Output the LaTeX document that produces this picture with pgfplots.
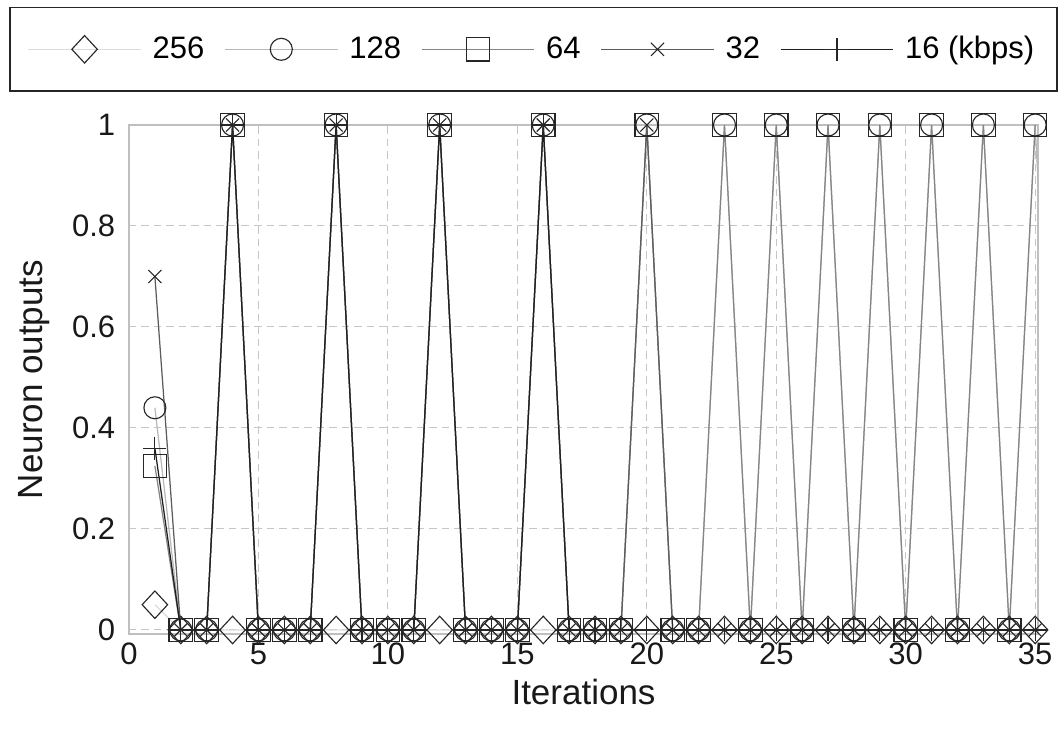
\documentclass[border=0pt]{standalone}
\usepackage{fontspec}
\setmainfont{Liberation Sans}
\usepackage{pgfplots}
\usepackage{pgfplotstable}
\pgfplotsset{compat=1.18}

\definecolor{c256}{gray}{0.86}
\definecolor{c128}{gray}{0.72}
\definecolor{c64}{gray}{0.52}
\definecolor{c32}{gray}{0.36}
\definecolor{c16}{gray}{0.12}
\definecolor{mk}{gray}{0.15}

% neuron outputs per iteration, one column per bit rate
\pgfplotstableread{
x  a256 a128 a64   a32  a16
1  0.05 0.44 0.325 0.70 0.36
2  0    0    0     0    0
3  0    0    0     0    0
4  0    1    1     1    1
5  0    0    0     0    0
6  0    0    0     0    0
7  0    0    0     0    0
8  0    1    1     1    1
9  0    0    0     0    0
10 0    0    0     0    0
11 0    0    0     0    0
12 0    1    1     1    1
13 0    0    0     0    0
14 0    0    0     0    0
15 0    0    0     0    0
16 0    1    1     1    1
17 0    0    0     0    0
18 0    0    0     0    0
19 0    0    0     0    0
20 0    1    1     1    0
21 0    0    0     0    0
22 0    0    0     0    0
23 0    1    1     0    0
24 0    0    0     0    0
25 0    1    1     0    0
26 0    0    0     0    0
27 0    1    1     0    0
28 0    0    0     0    0
29 0    1    1     0    0
30 0    0    0     0    0
31 0    1    1     0    0
32 0    0    0     0    0
33 0    1    1     0    0
34 0    0    0     0    0
35 0    1    1     0    0
36 0    0    0     0    0
}\outputs

\begin{document}
\begin{tikzpicture}
\begin{axis}[
    scale only axis,
    width=363.6pt, height=203.6pt,
    xmin=0, xmax=35.11,
    ymin=-0.008, ymax=1,
    xtick={0,5,...,35},
    ytick={0,0.2,0.4,0.6,0.8,1},
    major tick length=0pt,
    grid=major,
    major grid style={gray!45, line width=0.4pt, dash pattern=on 3pt off 2pt},
    axis line style={gray!50, line width=0.6pt},
    /pgf/number format/assume math mode=true,
    ticklabel style={font=\fontsize{12.4}{14.9}\selectfont, text=black!90},
    xticklabel style={yshift=0pt},
    yticklabel style={xshift=-2pt},
    label style={font=\fontsize{14}{16.8}\selectfont, text=black!90},
    xlabel={Iterations},
    ylabel={Neuron outputs},
    xlabel style={yshift=1pt},
    ylabel style={yshift=2pt},
    every axis plot/.append style={line width=0.5pt},
    legend columns=5,
    legend image code/.code={\draw[mark repeat=2,mark phase=2,#1] plot coordinates {(0pt,0pt) (22.5pt,0pt) (45pt,0pt)};},
    legend style={
        at={(0.445,1.065)}, anchor=south,
        draw=black!85, line width=0.6pt,
        inner xsep=7pt, inner ysep=9.5pt,
        font=\fontsize{12.4}{14.9}\selectfont,
        /tikz/every odd column/.append style={column sep=2.5pt},
        /tikz/every even column/.append style={column sep=6pt},
    },
]
\addplot[c256, mark=square, mark size=3.6pt,
    mark options={draw=mk, solid, line width=0.45pt, yscale=1.08, rotate=45}]
    table[x=x, y=a256, skip coords between index={35}{36}] {\outputs};
\addlegendentry{256}
\addplot[c128, mark=o, mark size=4.4pt, mark options={draw=mk, solid, line width=0.45pt}]
    table[x=x, y=a128, skip coords between index={35}{36}] {\outputs};
\addlegendentry{128}
\addplot[c128, no markers, forget plot]
    table[x=x, y=a128, skip coords between index={0}{34}] {\outputs};
\addplot[c64, mark=square, mark size=4.7pt, mark options={draw=mk, solid, line width=0.45pt}]
    table[x=x, y=a64, skip coords between index={35}{36}] {\outputs};
\addlegendentry{64}
\addplot[c32, mark=x, mark size=3.7pt, mark options={draw=mk, solid, line width=0.45pt}]
    table[x=x, y=a32, skip coords between index={35}{36}] {\outputs};
\addlegendentry{32}
\addplot[c16, mark=+, mark size=4.6pt, mark options={draw=mk, solid, line width=0.45pt}]
    table[x=x, y=a16, skip coords between index={35}{36}] {\outputs};
\addlegendentry{16 (kbps)}
\end{axis}
\pgfresetboundingbox
\path[use as bounding box] ([shift={(-51.6pt,-38pt)}]current axis.south west)
    rectangle ([shift={(9.6pt,50pt)}]current axis.north east);
\end{tikzpicture}
\end{document}
